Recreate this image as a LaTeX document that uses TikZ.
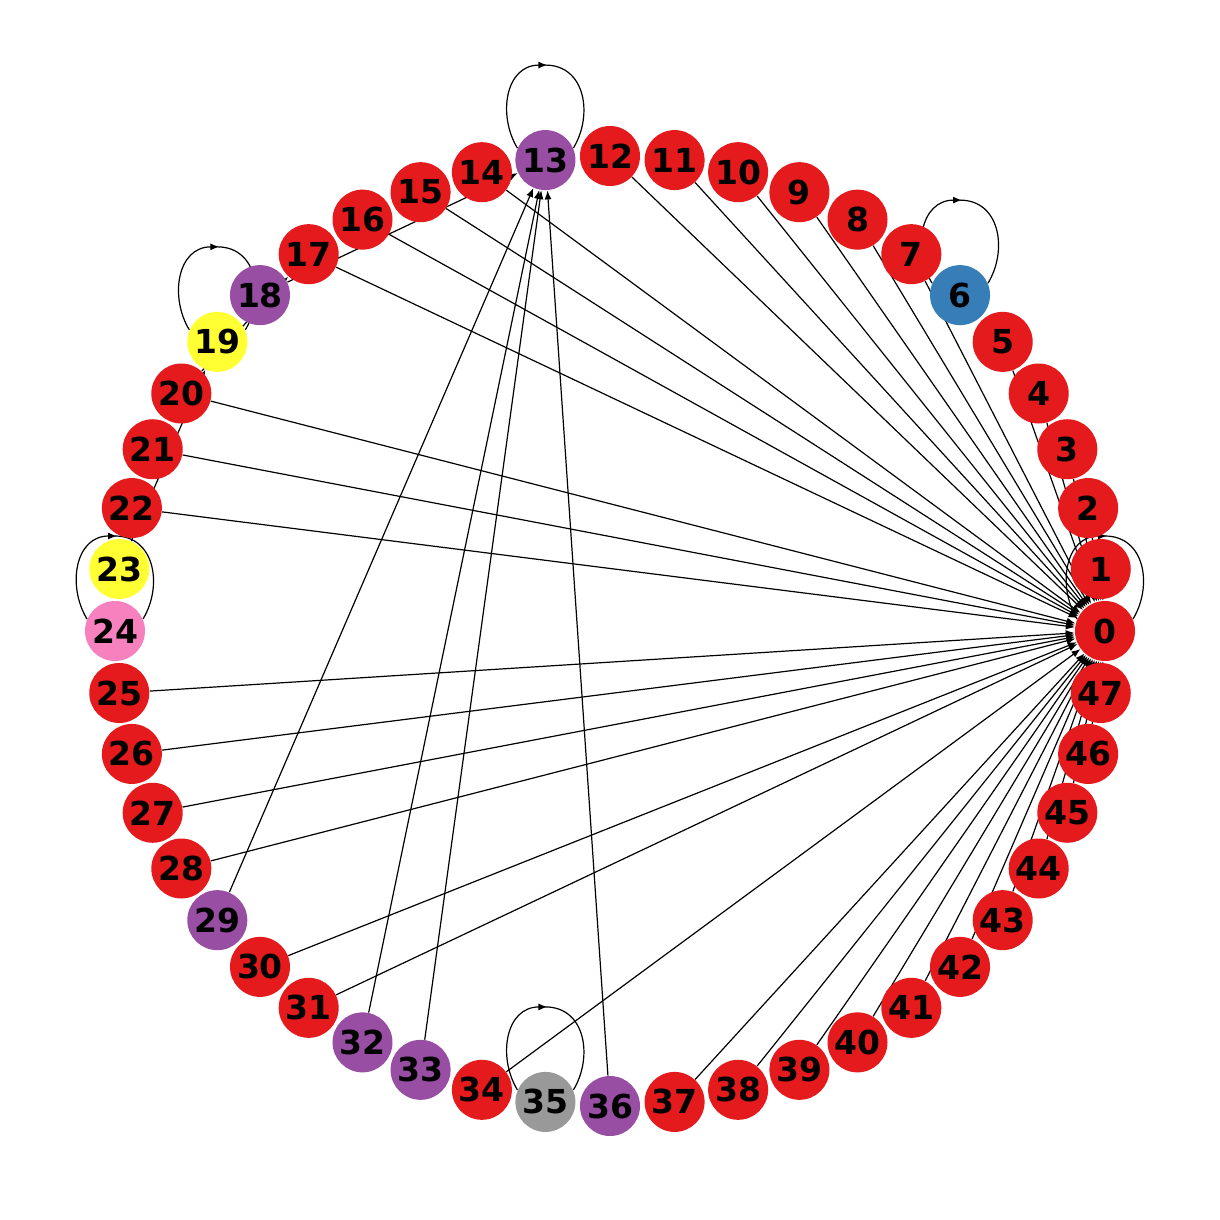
\documentclass[tikz,border=0pt]{standalone}
\usepackage{fontspec}
\setmainfont{DejaVu Sans}
\usetikzlibrary{arrows.meta,backgrounds,calc}
\definecolor{cred}{HTML}{E41A1C}
\definecolor{cpur}{HTML}{984EA3}
\definecolor{cblu}{HTML}{377EB8}
\definecolor{cyel}{HTML}{FFFF33}
\definecolor{cpnk}{HTML}{F781BF}
\definecolor{cgry}{HTML}{999999}
\newcommand\myloop[1]{%
  \draw[edge] ($(#1)+(-28,-12)$) .. controls ($(#1)+(-48,-45)$) and ($(#1)+(-40,-95)$) .. ($(#1)+(2,-95)$);
  \draw[plain] ($(#1)+(0,-95)$) .. controls ($(#1)+(40,-95)$) and ($(#1)+(48,-45)$) .. ($(#1)+(28,-12)$);
}
\begin{document}
\begin{tikzpicture}[x=0.5pt,y=-0.5pt,
  vtx/.style={circle,minimum size=30pt,inner sep=0pt,font=\fontsize{16.5}{19}\selectfont\bfseries},
  edge/.style={line width=0.6pt,-{Latex[length=4.5pt,width=3.5pt]}},
  plain/.style={line width=0.6pt}]
\useasboundingbox (0,0) rectangle (1220,1220);
\foreach \i/\c in {0/cred,1/cred,2/cred,3/cred,4/cred,5/cred,6/cblu,7/cred,8/cred,9/cred,
  10/cred,11/cred,12/cred,13/cpur,14/cred,15/cred,16/cred,17/cred,18/cpur,19/cyel,
  20/cred,21/cred,22/cred,23/cyel,24/cpnk,25/cred,26/cred,27/cred,28/cred,29/cpur,
  30/cred,31/cred,32/cpur,33/cpur,34/cred,35/cgry,36/cpur,37/cred,38/cred,39/cred,
  40/cred,41/cred,42/cred,43/cred,44/cred,45/cred,46/cred,47/cred}
  \node[vtx,fill=\c] (n\i) at ({610+495*cos(7.5*\i)},{631-475*sin(7.5*\i)}) {\i};
\begin{pgfonlayer}{background}
\fill[white] (0,0) rectangle (1220,1220);
\foreach \s in {1,2,3,4,5,7,8,9,10,11,12,14,15,16,17,20,21,22,25,26,27,28,30,31,34,
  37,38,39,40,41,42,43,44,45,46,47}
  \draw[edge] (n\s) -- (n0);
\foreach \s in {18,29,32,33,36}
  \draw[edge] (n\s) -- (n13);
\draw[edge] (n23) -- (n19);
\draw[edge] (n20) -- (n17);
\myloop{n0}
\myloop{n6}
\myloop{n13}
\myloop{n19}
\myloop{n24}
\myloop{n35}
\end{pgfonlayer}
\end{tikzpicture}
\end{document}
